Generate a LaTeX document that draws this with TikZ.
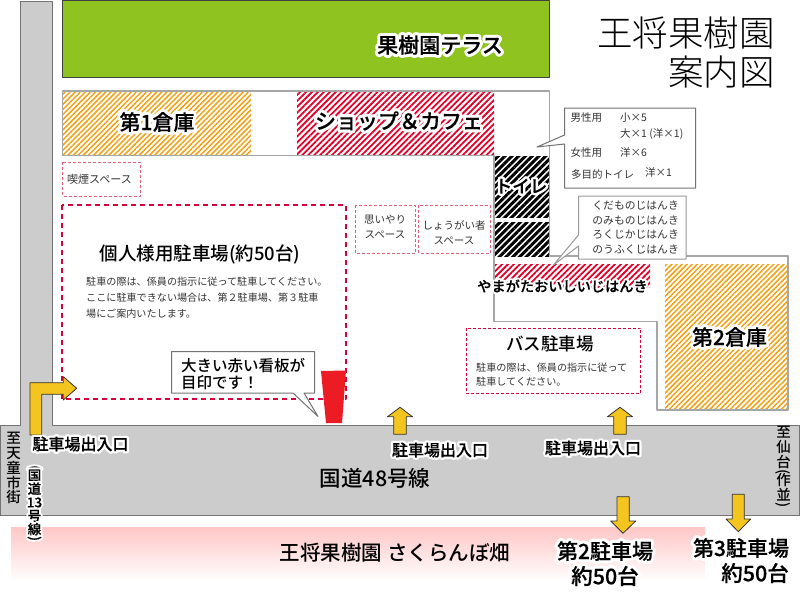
\documentclass[tikz,border=0pt]{standalone}
\usepackage{fontspec}
\usetikzlibrary{patterns.meta}
\setmainfont{Noto Sans CJK JP}
\newfontfamily\medfont{Noto Sans CJK JP Medium}
\newfontfamily\lightfont{Noto Sans CJK JP Light}
\newfontfamily\halofont[FakeBold=30]{Noto Sans CJK JP Medium}
\newfontfamily\frontfont[FakeBold=0.4]{Noto Sans CJK JP Medium}
\newcommand{\hl}[1]{\leavevmode\rlap{\color{white}\halofont #1}{\color{black}\frontfont #1}}
\newcommand{\rpar}[1]{\rotatebox[origin=c]{-90}{#1}}
\definecolor{roadgray}{RGB}{204,204,204}
\definecolor{terrace}{RGB}{143,195,31}
\definecolor{hatchor}{RGB}{243,160,20}
\definecolor{hatchre}{RGB}{228,0,40}
\definecolor{dashpink}{RGB}{224,96,122}
\definecolor{dashred}{RGB}{215,0,58}
\definecolor{arrowyel}{RGB}{245,197,31}
\definecolor{signred}{RGB}{236,28,36}
\tikzset{
  road/.style={draw=black!55, fill=roadgray, line width=1pt},
  wall/.style={draw=black!35, line width=1.2pt},
  hatchorange/.style={pattern={Lines[angle=45,distance=3.6pt,line width=1.5pt]}, pattern color=hatchor},
  hatchred/.style={pattern={Lines[angle=45,distance=4.2pt,line width=1.8pt]}, pattern color=hatchre},
  hatchblack/.style={pattern={Lines[angle=45,distance=4.8pt,line width=3pt]}, pattern color=black},
  thindash/.style={draw=dashpink, dash pattern=on 3pt off 2pt, line width=1pt},
  busdash/.style={draw=dashred, dash pattern=on 3pt off 2pt, line width=0.8pt},
  thickdash/.style={draw=dashred, dash pattern=on 5pt off 4pt, line width=1.6pt},
  callout/.style={draw=black!55, fill=white, line width=1pt},
  yarrow/.style={draw=black!80, fill=arrowyel, line width=0.8pt},
  lab/.style={inner sep=0pt, font=\medfont},
  small/.style={inner sep=0pt, anchor=west, font=\fontsize{10.1}{12}\selectfont, text=black!80},
}
\begin{document}
\begin{tikzpicture}[x=1pt, y=-1pt, line join=round]
  \useasboundingbox (0,0) rectangle (800,600);

  \draw[road] (20.5,1) -- (52.5,1) -- (52.5,425.5) -- (799.5,425.5) -- (799.5,515) -- (0,515) -- (0,425.5) -- (20.5,425.5) -- cycle;
  \fill[top color=red!22, bottom color=white, draw=none] (11,527.5) rectangle (705,581);

  \draw[draw=black!75, fill=terrace, line width=1pt] (62.5,0) rectangle (549,77);

  % hatched rooms
  \fill[hatchorange] (63,92) rectangle (251,155);
  \fill[hatchred] (297,92) rectangle (494,155);
  \fill[hatchblack] (494,156) rectangle (549,217);
  \fill[hatchblack] (494,222) rectangle (549,256);
  \fill[hatchred] (494,264) rectangle (650,287);
  \fill[hatchorange] (665,264) rectangle (788,409);
  \draw[wall] (62.5,91) -- (549.5,91) -- (549.5,256) -- (788,256) -- (788,410) -- (657,410) -- (657,321.5) -- (494,321.5) -- (494,155.5) -- (62.5,155.5) -- cycle;

  % dashed areas
  \draw[thindash] (62.5,162) rectangle (140,196);
  \draw[thindash] (355,205) rectangle (415.5,253);
  \draw[thindash] (418.5,205) rectangle (490,253);
  \draw[busdash] (466.5,328) rectangle (640.5,393.5);
  \draw[thickdash] (62,205) rectangle (346,399);

  \fill[signred] (321,371) -- (346,370.5) -- (342,423) -- (326,423) -- cycle;

  % callouts
  \draw[callout] (564.5,108) -- (695.5,108) -- (695.5,188) -- (564.5,188) -- (564.5,144) -- (537,147) -- (564.5,135) -- cycle;
  \draw[callout, draw=black!40] (578.5,196) -- (686,196) -- (686,259) -- (578.5,259) -- (578.5,246) -- (553.5,265) -- (578.5,235) -- cycle;
  \draw[callout] (171.5,351.5) -- (314.5,351.5) -- (314.5,393) -- (304,393) -- (318,416.5) -- (293,393) -- (171.5,393) -- cycle;

  % arrows
  \draw[yarrow] (30,435) -- (30,382.7) -- (63.3,382.7) -- (63.3,376.7) -- (76.7,388.3) -- (63.3,400) -- (63.3,394.3) -- (41.7,394.3) -- (41.7,435) -- cycle;
  \foreach \xa in {400,620}
    \draw[yarrow] (\xa-6.3,434.3) -- (\xa-6.3,416.7) -- (\xa-12.5,416.7) -- (\xa,407.3) -- (\xa+12.5,416.7) -- (\xa+6.3,416.7) -- (\xa+6.3,434.3) -- cycle;
  \draw[yarrow] (617,496.7) -- (629.3,496.7) -- (629.3,521) -- (635.7,521) -- (623,533.3) -- (610.7,521) -- (617,521) -- cycle;
  \draw[yarrow] (732.3,494.3) -- (744.3,494.3) -- (744.3,519) -- (750.7,519) -- (738.3,531.7) -- (726,519) -- (732.3,519) -- cycle;

  % titles
  \node[inner sep=0pt, anchor=east, font=\lightfont\fontsize{35.5}{36}\selectfont] (titleA) at (775,33) {王将果樹園};
  \node[inner sep=0pt, anchor=east, font=\lightfont\fontsize{35.5}{36}\selectfont] (titleB) at (775,72) {案内図};

  \node[lab, font=\medfont\fontsize{21}{22}\selectfont] (terrace) at (440,45) {\hl{果樹園テラス}};
  \node[lab, font=\medfont\fontsize{21}{22}\selectfont] (store1) at (157,122) {\hl{第1倉庫}};
  \node[lab, font=\medfont\fontsize{21}{22}\selectfont] (shop) at (399,121) {\hl{ショップ＆カフェ}};
  \node[lab, font=\medfont\fontsize{21}{22}\selectfont] (store2) at (729.5,337) {\hl{第2倉庫}};
  \node[lab, font=\medfont\fontsize{17.5}{19}\selectfont] (toilet) at (521,186) {\hl{トイレ}};

  \node[small, font=\fontsize{11}{12}\selectfont] (smoke) at (67,179) {喫煙スペース};
  \node[lab, font=\medfont\fontsize{18.5}{19}\selectfont] (carpark) at (200,254) {個人様用駐車場(約50台)};
  \node[small] (carparkA) at (86,282) {駐車の際は、係員の指示に従って駐車してください。};
  \node[small] (carparkB) at (86,298) {ここに駐車できない場合は、第２駐車場、第３駐車};
  \node[small] (carparkC) at (86,314) {場にご案内いたします。};
  \node[small, anchor=center, align=center, font=\fontsize{10.5}{15.5}\selectfont] (kind) at (385,227) {思いやり\\スペース};
  \node[small, anchor=center, align=center, font=\fontsize{10.5}{15}\selectfont] (disabled) at (454,233) {しょうがい者\\スペース};
  \node[lab, font=\medfont\fontsize{17.5}{19}\selectfont] (bus) at (550,344) {バス駐車場};
  \node[small] (busA) at (476,368) {駐車の際は、係員の指示に従って};
  \node[small] (busB) at (476,382) {駐車してください。};

  % toilet counts
  \foreach \xa/\ya/\txt/\nm in {570.5/118/男性用/menA, 620/118/小×5/menB, 620/134/大×1 (洋×1)/menC, 570.5/153/女性用/womenA, 620/153/洋×6/womenB, 571/174/多目的トイレ/multiA, 645/173/洋×1/multiB}
    \node[small, font=\fontsize{10.5}{12}\selectfont] (\nm) at (\xa,\ya) {\txt};
  % vending machines
  \foreach \ya/\txt/\nm in {206/くだものじはんき/vendA, 221/のみものじはんき/vendB, 235/ろくじかじはんき/vendC, 250/のうふくじはんき/vendD}
    \node[small, anchor=east, font=\fontsize{10.8}{12}\selectfont] (\nm) at (679,\ya) {\txt};
  \node[lab, font=\medfont\fontsize{14.2}{16}\selectfont] (vending) at (562.5,286) {\hl{やまがたおいしいじはんき}};

  \node[lab, anchor=west, align=left, font=\medfont\fontsize{15.5}{17}\selectfont] (sign) at (181,373.5) {大きい赤い看板が\\目印です！};

  % road labels
  \node[lab, font=\medfont\fontsize{16}{18}\selectfont] (exitA) at (80.5,444) {\hl{駐車場出入口}};
  \node[lab, font=\medfont\fontsize{16}{18}\selectfont] (exitB) at (440,450) {\hl{駐車場出入口}};
  \node[lab, font=\medfont\fontsize{16}{18}\selectfont] (exitC) at (593,448) {\hl{駐車場出入口}};
  \node[lab, font=\medfont\fontsize{21.5}{22}\selectfont] (route48) at (375,478) {国道48号線};
  \node[lab, font=\medfont\fontsize{20.5}{22}\selectfont] (orchard) at (395,553) {王将果樹園 さくらんぼ畑};
  \node[lab, font=\medfont\fontsize{21}{22}\selectfont] (parkA) at (605,551) {\hl{第2駐車場}};
  \node[lab, font=\medfont\fontsize{21.5}{22}\selectfont] (parkAb) at (605,576) {\hl{約50台}};
  \node[lab, font=\medfont\fontsize{21}{22}\selectfont] (parkB) at (741,548) {\hl{第3駐車場}};
  \node[lab, anchor=east, font=\medfont\fontsize{21.5}{22}\selectfont] (parkBb) at (789,573) {\hl{約50台}};

  % vertical labels
  \node[lab, anchor=north, align=center, font=\medfont\fontsize{14.5}{14.8}\selectfont] (tendo) at (13.7,432) {至\\天\\童\\市\\街};
  \node[lab, anchor=north, align=center, font=\medfont\fontsize{13.5}{13.5}\selectfont] (route13) at (34.5,465) {\hl{\rpar{(}}\\[-5pt]\hl{国}\\\hl{道}\\\hl{13}\\\hl{号}\\\hl{線}\\[-5pt]\hl{\rpar{)}}};
  \node[lab, anchor=north, align=center, font=\medfont\fontsize{14.5}{15}\selectfont] (sendai) at (783.5,426) {至\\仙\\台\\[-6pt]\rpar{(}\\[-6pt]作\\並\\[-6pt]\rpar{)}};
\end{tikzpicture}
\end{document}
